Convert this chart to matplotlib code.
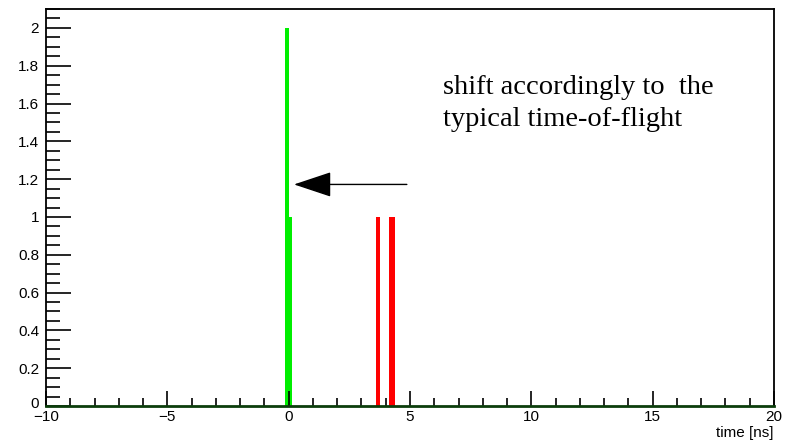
import matplotlib
matplotlib.use("Agg")
import matplotlib.pyplot as plt
import matplotlib.transforms as mtransforms
from matplotlib.ticker import MultipleLocator

# Data
green_edges = [-0.15, 0.0, 0.15]
green_counts = [2, 1]
red_edges = [3.6, 3.75, 4.15, 4.4]
red_counts = [1, 0, 1]
x_range = (-10, 20)
y_range = (0, 2.1)
x_ticks = [-10, -5, 0, 5, 10, 15, 20]
y_ticks = [0, 0.2, 0.4, 0.6, 0.8, 1, 1.2, 1.4, 1.6, 1.8, 2]
xlabel = "time [ns]"
annotation_lines = ["shift accordingly to  the", "typical time-of-flight"]
annotation_y = [1.65, 1.48]
annotation_x = 6.36
arrow_start = (4.87, 1.172)
arrow_end = (0.22, 1.172)

plt.rcParams['font.family'] = ['Liberation Sans', 'DejaVu Sans']

fig = plt.figure(figsize=(7.93, 4.41), dpi=100)
ax = fig.add_axes([46/793, 35/441, 728/793, 397/441])

ax.stairs(green_counts, green_edges, fill=True, color='#00ee00', lw=0)
ax.stairs(red_counts, red_edges, fill=True, color='#ff0000', lw=0)

def fmt(v):
    return ('%g' % v).replace('-', '\u2212')

ax.set_xticks(x_ticks)
ax.set_xticklabels([fmt(v) for v in x_ticks])
ax.set_yticks(y_ticks)
ax.set_yticklabels([fmt(v) for v in y_ticks])
ax.xaxis.set_minor_locator(MultipleLocator(1))
ax.yaxis.set_minor_locator(MultipleLocator(0.05))
ax.set_xlim(*x_range)
ax.set_ylim(*y_range)

ax.tick_params(which='both', direction='in', labelsize=11, color='black', width=1.2)
ax.tick_params(which='major', axis='x', length=11, pad=3)
ax.tick_params(which='minor', axis='x', length=6)
ax.tick_params(which='major', axis='y', length=18, pad=5)
ax.tick_params(which='minor', axis='y', length=10)
ax.tick_params(top=False, right=False, which='both')

# lift the y "0" label a little, like ROOT does
lab0 = ax.get_yticklabels()[0]
lab0.set_transform(lab0.get_transform() + mtransforms.ScaledTranslation(0, 4/100, fig.dpi_scale_trans))

for s in ['left', 'top', 'right']:
    ax.spines[s].set_linewidth(1.3)
    ax.spines[s].set_color('black')
ax.spines['bottom'].set_linewidth(2)
ax.spines['bottom'].set_color('#0b3d0b')

ax.set_xlabel(xlabel, fontsize=11, loc='right', labelpad=1)

ax.annotate('', xy=arrow_end, xytext=arrow_start,
            arrowprops=dict(arrowstyle='-|>,head_length=2.4,head_width=0.8',
                            mutation_scale=10, color='black', lw=1,
                            shrinkA=0, shrinkB=0))

for line, yy in zip(annotation_lines, annotation_y):
    ax.text(annotation_x, yy, line, fontsize=20.5, family=['Liberation Serif'],
            va='baseline', ha='left')

fig.savefig('out.png', dpi=100)
